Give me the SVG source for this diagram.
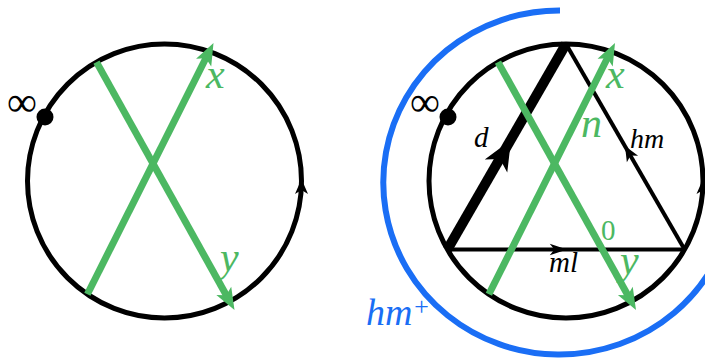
<svg xmlns="http://www.w3.org/2000/svg" xmlns:xlink="http://www.w3.org/1999/xlink" width="705" height="360" viewBox="0 0 705 360">
<style>
.circ{fill:none;stroke:#000;stroke-width:5}
.g{stroke:#4cb862;stroke-width:7;fill:none}
.gh{fill:#4cb862}
.tri{stroke:#000;stroke-width:4;fill:none}
.lab{font-family:"Liberation Serif","Times New Roman",serif;font-style:italic}
.up{font-family:"Liberation Serif","Times New Roman",serif}
.gl{fill:#4cb862}
.bl{fill:#1a6ef5}
.blue{fill:none;stroke:#1a6ef5;stroke-width:6}
</style>
<defs>
<path id="ah" d="M0,0 L-15,-6.5 L-11,0 L-15,6.5 Z"/>
<path id="ahd" d="M0,0 L-30,-13 L-22,0 L-30,13 Z"/>
<path id="ahg" d="M0,0 L-22,-8.5 L-17,0 L-22,8.5 Z"/>
</defs>
<rect width="705" height="360" fill="#fff"/>

<!-- Left diagram -->
<g id="left-circle"><circle class="circ" cx="164.5" cy="181" r="137"/></g>
<g id="left-infinity">
<circle cx="45" cy="117" r="8.5" fill="#000"/>
<text class="up" x="22" y="116" font-size="42" text-anchor="middle">∞</text>
</g>
<g id="left-connectors">
<use href="#ah" transform="translate(301.5,179) rotate(-90)"/>
<line class="g" x1="87.4" y1="294.3" x2="208.1" y2="53.7"/>
<use href="#ahg" class="gh" transform="translate(213.5,43) rotate(-63.35)"/>
<line class="g" x1="96.5" y1="62.1" x2="228.7" y2="299.5"/>
<use href="#ahg" class="gh" transform="translate(234.5,310) rotate(60.9)"/>
</g>
<g id="left-labels">
<text class="lab gl" x="206" y="88" font-size="42">x</text>
<text class="lab gl" x="220" y="271" font-size="42">y</text>
</g>

<!-- Right diagram -->
<g id="hm-plus-arc">
<path class="blue" d="M560 10.5 A176 172 0 1 0 712 268"/>
<text class="lab bl" x="366" y="325" font-size="38">hm<tspan class="up" font-size="26" dy="-10">+</tspan></text>
</g>
<g id="right-circle"><circle class="circ" cx="566" cy="181" r="137"/></g>
<g id="right-infinity">
<circle cx="448" cy="117" r="8.5" fill="#000"/>
<text class="up" x="425" y="116" font-size="42" text-anchor="middle">∞</text>
</g>
<g id="right-connectors">
<use href="#ah" transform="translate(703,179) rotate(-90)"/>
<line class="tri" x1="684.6" y1="249.5" x2="566" y2="44"/>
<line class="tri" x1="447.4" y1="249.5" x2="684.6" y2="249.5"/>
<line stroke="#000" stroke-width="10" x1="447.4" y1="249.5" x2="566" y2="44"/>
<use href="#ahd" transform="translate(511,140) rotate(-60)"/>
<use href="#ah" transform="translate(625,146) rotate(-120)"/>
<use href="#ah" transform="translate(567,249.5) scale(1.15,0.9)"/>
<line class="g" x1="488.9" y1="294.3" x2="609.6" y2="53.7"/>
<use href="#ahg" class="gh" transform="translate(615,43) rotate(-63.35)"/>
<line class="g" x1="498" y1="62.1" x2="630.2" y2="299.5"/>
<use href="#ahg" class="gh" transform="translate(636,310) rotate(60.9)"/>
</g>
<g id="right-labels">
<text class="lab gl" x="606" y="88" font-size="42">x</text>
<text class="lab gl" x="620" y="274" font-size="42">y</text>
<text class="lab gl" x="581" y="137" font-size="42">n</text>
<text class="up gl" x="601" y="240" font-size="29">0</text>
<text class="lab" x="474" y="147" font-size="29">d</text>
<text class="lab" x="630" y="148" font-size="28">hm</text>
<text class="lab" x="549" y="272" font-size="29">ml</text>
</g>
</svg>
